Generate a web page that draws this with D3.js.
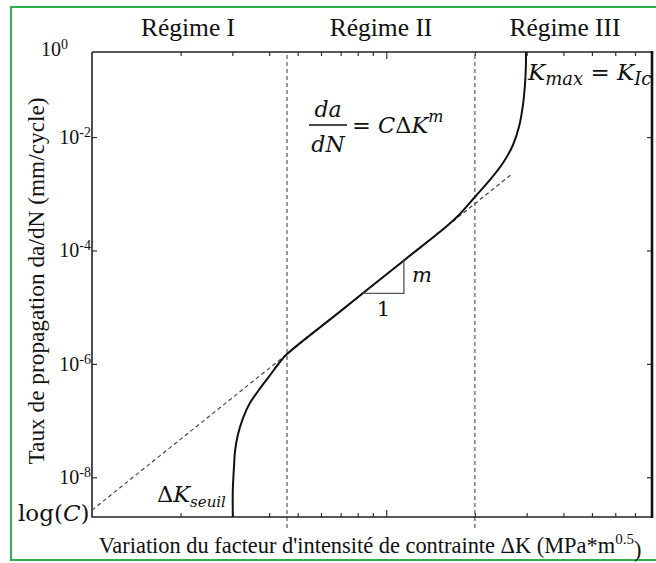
<!DOCTYPE html>
<html>
<head>
<meta charset="utf-8">
<script src="https://cdn.jsdelivr.net/npm/d3@7"></script>
<style>
  html, body { margin: 0; padding: 0; background: #fff; }
  svg { display: block; }
  .serif { font-family: "Liberation Serif", "Times New Roman", serif; fill: #111; }
  .math { font-family: "DejaVu Serif", serif; fill: #111; }
</style>
</head>
<body>
<svg id="chart" width="656" height="563"></svg>
<script>
// Fatigue crack growth curve: da/dN versus ΔK on log-log axes
const deltaK = [3.01, 3.01, 3.04, 3.06, 3.13, 3.26, 3.44, 3.69, 4.03, 4.35, 4.60, 6.96,
                11.48, 16.08, 17.80, 20.01, 22.51, 24.92, 26.95, 28.24, 29.14, 29.60,
                29.83, 29.83];
const growthRate = [2.0e-9, 6.0e-9, 1.64e-8, 2.79e-8, 5.56e-8, 1.11e-7, 2.04e-7, 3.46e-7,
                    6.35e-7, 1.08e-6, 1.49e-6, 8.35e-6, 6.68e-5, 2.70e-4, 4.40e-4, 8.77e-4,
                    1.75e-3, 3.48e-3, 7.24e-3, 1.50e-2, 3.67e-2, 8.28e-2, 0.187, 0.316];

// Paris law asymptote (straight line in log-log)
const parisK = [1, 26.74];
const parisRate = [2.64e-9, 2.23e-3];

// Boundaries between the three regimes
const regimeBounds = [4.6, 20];
const regimeNames = ["Régime I", "Régime II", "Régime III"];
const regimeLabelK = [2.12, 9.6, 40.5];

// Slope triangle under the linear part
const slopeK = [8.33, 11.48];
const slopeRate = [1.75e-5, 6.68e-5];

// Axes
const xDomain = [1, 80];
const yDomain = [Math.pow(10, -8.7), Math.pow(10, -0.5)];
const xMinorTicks = [2, 3, 4, 5, 6, 7, 8, 9, 20, 30, 40, 50, 60, 70, 80];
const xMajorTicks = [10];
const yTickValues = [1e-2, 1e-4, 1e-6, 1e-8];
const yTickExps = ["-2", "-4", "-6", "-8"];
const yTopExp = "0";

const svg = d3.select("#chart");
const plotL = 92, plotR = 652, plotT = 52, plotB = 517;

const x = d3.scaleLog().domain(xDomain).range([plotL, plotR]);
const y = d3.scaleLog().domain(yDomain).range([plotB, plotT]);

svg.append("rect").attr("width", 656).attr("height", 563).attr("fill", "#fff");

// green frame
svg.append("rect")
  .attr("x", 11).attr("y", 7).attr("width", 660).attr("height", 553)
  .attr("fill", "none").attr("stroke", "#2cb14c").attr("stroke-width", 2);

// regime separators
svg.selectAll("line.regime").data(regimeBounds).join("line")
  .attr("class", "regime")
  .attr("x1", d => x(d)).attr("x2", d => x(d))
  .attr("y1", plotT + 3).attr("y2", plotB + 12)
  .attr("stroke", "#666").attr("stroke-width", 1.3).attr("stroke-dasharray", "4,3");

// ticks (pointing inwards) on all four sides
function tickAxis(gen, transform) {
  const g = svg.append("g").attr("transform", transform).call(gen);
  g.select(".domain").remove();
  g.selectAll(".tick line").attr("stroke", "#333").attr("stroke-width", 1.2);
  g.selectAll(".tick text").remove();
  return g;
}
tickAxis(d3.axisBottom(x).tickValues(xMinorTicks).tickSize(-4), `translate(0,${plotB})`);
tickAxis(d3.axisBottom(x).tickValues(xMajorTicks).tickSize(-7), `translate(0,${plotB})`);
tickAxis(d3.axisTop(x).tickValues(xMinorTicks).tickSize(-4), `translate(0,${plotT})`);
tickAxis(d3.axisTop(x).tickValues(xMajorTicks).tickSize(-7), `translate(0,${plotT})`);
tickAxis(d3.axisLeft(y).tickValues(yTickValues).tickSize(-5), `translate(${plotL},0)`);
tickAxis(d3.axisRight(y).tickValues(yTickValues).tickSize(-5), `translate(${plotR},0)`);

// frame
svg.append("path")
  .attr("d", `M${plotL},${plotT}H${plotR}M${plotL},${plotT}V${plotB}H${plotR}`)
  .attr("fill", "none").attr("stroke", "#222").attr("stroke-width", 1.6);
svg.append("line")
  .attr("x1", plotR).attr("x2", plotR).attr("y1", plotT - 1).attr("y2", plotB + 1)
  .attr("stroke", "#111").attr("stroke-width", 2.6);

// y tick labels
const yLab = svg.append("g").attr("class", "serif").attr("font-size", 20);
function powerLabel(xPos, yPos, exp) {
  const t = yLab.append("text").attr("x", xPos).attr("y", yPos).attr("dy", "0.35em")
    .attr("text-anchor", "end");
  t.append("tspan").text("10");
  t.append("tspan").attr("dy", "-0.5em").attr("font-size", 14).text(exp);
}
yTickValues.forEach((v, i) => powerLabel(plotL - 1, y(v), yTickExps[i]));
powerLabel(68, y(yDomain[1]) - 3, yTopExp);

// regime names
svg.selectAll("text.regname").data(regimeNames).join("text")
  .attr("class", "serif")
  .attr("x", (d, i) => x(regimeLabelK[i])).attr("y", 36)
  .attr("text-anchor", "middle").attr("font-size", 25.5)
  .text(d => d);

// axis titles
const xt = svg.append("text").attr("class", "serif").attr("font-size", 22.4)
  .attr("x", 370).attr("y", 553).attr("text-anchor", "middle");
xt.append("tspan").text("Variation du facteur d'intensité de contrainte ΔK (MPa*m");
xt.append("tspan").attr("dy", "-0.6em").attr("font-size", 15).text("0.5");
xt.append("tspan").attr("dy", "0.6em").text(")");

svg.append("text").attr("class", "serif").attr("font-size", 23.3)
  .attr("transform", "translate(44,281) rotate(-90)")
  .attr("text-anchor", "middle")
  .text("Taux de propagation da/dN (mm/cycle)");

// Paris line
const line = d3.line().x(d => x(d[0])).y(d => y(d[1]));
svg.append("path")
  .attr("d", line(parisK.map((k, i) => [k, parisRate[i]])))
  .attr("fill", "none").attr("stroke", "#444").attr("stroke-width", 1.2)
  .attr("stroke-dasharray", "4,3");

// growth curve
svg.append("path")
  .attr("d", line.curve(d3.curveCatmullRom.alpha(0.5))(deltaK.map((k, i) => [k, growthRate[i]])))
  .attr("fill", "none").attr("stroke", "#111").attr("stroke-width", 2);

// slope triangle
svg.append("path")
  .attr("d", d3.line().x(d => x(d[0])).y(d => y(d[1]))([
    [slopeK[0], slopeRate[0]], [slopeK[1], slopeRate[0]], [slopeK[1], slopeRate[1]]
  ]))
  .attr("fill", "none").attr("stroke", "#555").attr("stroke-width", 1.3);
svg.append("text").attr("class", "math").attr("font-size", 21).attr("font-style", "italic")
  .attr("x", x(slopeK[1]) + 18).attr("y", (y(slopeRate[0]) + y(slopeRate[1])) / 2 + 5)
  .attr("text-anchor", "middle").text("m");
svg.append("text").attr("class", "math").attr("font-size", 21)
  .attr("x", x(Math.sqrt(slopeK[0] * slopeK[1]))).attr("y", y(slopeRate[0]) + 23)
  .attr("text-anchor", "middle").text("1");

// annotations
const m = svg.append("g").attr("class", "math");
// Paris law
m.append("text").attr("x", 328).attr("y", 117).attr("text-anchor", "middle")
  .attr("font-size", 22).attr("font-style", "italic").text("da");
m.append("line").attr("x1", 309).attr("x2", 347).attr("y1", 125).attr("y2", 125)
  .attr("stroke", "#111").attr("stroke-width", 1.5);
m.append("text").attr("x", 328).attr("y", 152).attr("text-anchor", "middle")
  .attr("font-size", 22).attr("font-style", "italic").text("dN");
const pl = m.append("text").attr("x", 352).attr("y", 133).attr("font-size", 22.5);
pl.append("tspan").text("= ");
pl.append("tspan").attr("font-style", "italic").text("C");
pl.append("tspan").text("Δ");
pl.append("tspan").attr("font-style", "italic").text("K");
pl.append("tspan").attr("font-style", "italic").attr("font-size", 16).attr("dy", -11).text("m");

// K_max = K_Ic
const kc = m.append("text").attr("x", 528).attr("y", 80).attr("font-size", 23);
kc.append("tspan").attr("font-style", "italic").text("K");
kc.append("tspan").attr("font-style", "italic").attr("font-size", 18).attr("dy", 5).text("max");
kc.append("tspan").attr("dy", -5).text(" = ");
kc.append("tspan").attr("font-style", "italic").text("K");
kc.append("tspan").attr("font-style", "italic").attr("font-size", 18).attr("dy", 5).text("Ic");

// ΔK threshold
const kt = m.append("text").attr("x", 157).attr("y", 502).attr("font-size", 22.5);
kt.append("tspan").text("Δ");
kt.append("tspan").attr("font-style", "italic").text("K");
kt.append("tspan").attr("font-style", "italic").attr("font-size", 15).attr("dy", 5).text("seuil");

// log(C)
const lc = m.append("text").attr("x", 18).attr("y", 521).attr("font-size", 23);
lc.append("tspan").text("log(");
lc.append("tspan").attr("font-style", "italic").text("C");
lc.append("tspan").text(")");
</script>
</body>
</html>
